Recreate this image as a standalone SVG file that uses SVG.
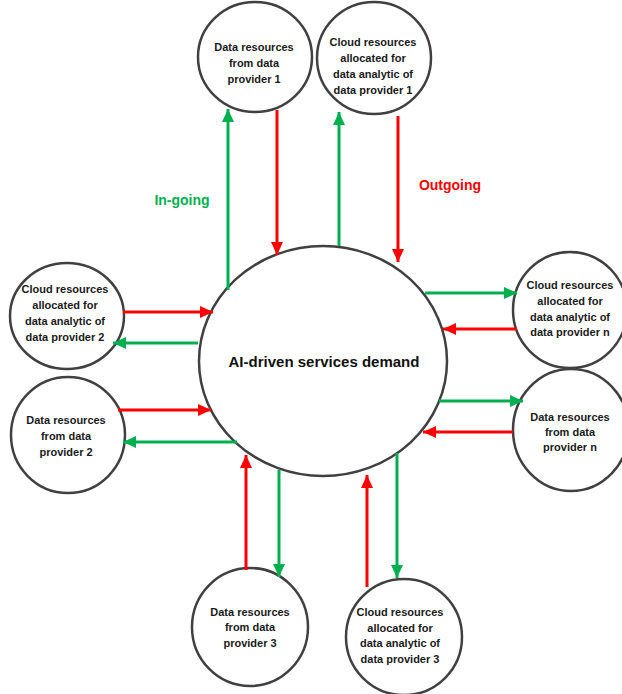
<svg xmlns="http://www.w3.org/2000/svg" width="622" height="694" viewBox="0 0 622 694">
  <style>
    .node { fill: #ffffff; stroke: #404040; stroke-width: 2.5; }
    .lbl { font-family: "Liberation Sans", Arial, sans-serif; font-weight: bold; font-size: 11px; fill: #1a1a1a; text-anchor: middle; }
    .hub { font-family: "Liberation Sans", Arial, sans-serif; font-weight: bold; font-size: 15px; fill: #111111; text-anchor: middle; }
    .out { stroke: #ff0000; stroke-width: 3; fill: none; marker-end: url(#headRed); }
    .in { stroke: #00b050; stroke-width: 3; fill: none; marker-end: url(#headGreen); }
    .key { font-family: "Liberation Sans", Arial, sans-serif; font-weight: bold; font-size: 14px; text-anchor: middle; }
  </style>
  <defs>
    <marker id="headRed" markerUnits="userSpaceOnUse" markerWidth="14" markerHeight="14" viewBox="0 0 14 14" refX="13" refY="7" orient="auto">
      <path d="M0,1 L13,7 L0,13 Z" fill="#ff0000"/>
    </marker>
    <marker id="headGreen" markerUnits="userSpaceOnUse" markerWidth="14" markerHeight="14" viewBox="0 0 14 14" refX="13" refY="7" orient="auto">
      <path d="M0,1 L13,7 L0,13 Z" fill="#00b050"/>
    </marker>
  </defs>

  <rect width="622" height="694" fill="#ffffff"/>

  <!-- central demand hub -->
  <g id="hub">
    <ellipse class="node" cx="323" cy="361" rx="124" ry="115"/>
    <text class="hub" x="324" y="367">AI-driven services demand</text>
  </g>

  <!-- provider nodes -->
  <g id="dr1">
    <ellipse class="node" cx="255" cy="57" rx="57" ry="55"/>
    <text class="lbl" x="254" y="51">Data resources</text>
    <text class="lbl" x="254" y="67">from data</text>
    <text class="lbl" x="254" y="83">provider 1</text>
  </g>
  <g id="cr1">
    <ellipse class="node" cx="374" cy="58" rx="57" ry="56"/>
    <text class="lbl" x="373" y="46">Cloud resources</text>
    <text class="lbl" x="373" y="62">allocated for</text>
    <text class="lbl" x="373" y="78">data analytic of</text>
    <text class="lbl" x="373" y="94">data provider 1</text>
  </g>
  <g id="cr2">
    <ellipse class="node" cx="67" cy="316" rx="57" ry="53"/>
    <text class="lbl" x="65" y="293">Cloud resources</text>
    <text class="lbl" x="65" y="309">allocated for</text>
    <text class="lbl" x="65" y="325">data analytic of</text>
    <text class="lbl" x="65" y="341">data provider 2</text>
  </g>
  <g id="dr2">
    <ellipse class="node" cx="68" cy="435" rx="57" ry="58"/>
    <text class="lbl" x="66" y="424">Data resources</text>
    <text class="lbl" x="66" y="440">from data</text>
    <text class="lbl" x="66" y="456">provider 2</text>
  </g>
  <g id="crn">
    <ellipse class="node" cx="570" cy="310" rx="57" ry="58"/>
    <text class="lbl" x="570" y="289">Cloud resources</text>
    <text class="lbl" x="570" y="305">allocated for</text>
    <text class="lbl" x="570" y="321">data analytic of</text>
    <text class="lbl" x="570" y="336">data provider n</text>
  </g>
  <g id="drn">
    <ellipse class="node" cx="571" cy="430" rx="58" ry="61"/>
    <text class="lbl" x="570" y="421">Data resources</text>
    <text class="lbl" x="570" y="436">from data</text>
    <text class="lbl" x="570" y="451">provider n</text>
  </g>
  <g id="dr3">
    <ellipse class="node" cx="250" cy="627" rx="58" ry="59"/>
    <text class="lbl" x="250" y="616">Data resources</text>
    <text class="lbl" x="250" y="631">from data</text>
    <text class="lbl" x="250" y="647">provider 3</text>
  </g>
  <g id="cr3">
    <ellipse class="node" cx="404" cy="637" rx="58" ry="58"/>
    <text class="lbl" x="400" y="616">Cloud resources</text>
    <text class="lbl" x="400" y="632">allocated for</text>
    <text class="lbl" x="400" y="647">data analytic of</text>
    <text class="lbl" x="400" y="663">data provider 3</text>
  </g>

  <!-- direction keys -->
  <text class="key" x="182" y="205" fill="#00b050">In-going</text>
  <text class="key" x="450" y="190" fill="#ff0000">Outgoing</text>

  <!-- flows between hub and providers -->
  <g id="connectors">
    <line class="in" x1="228" y1="290" x2="228" y2="109"/>
    <line class="out" x1="277" y1="110" x2="277" y2="255"/>
    <line class="in" x1="339" y1="246" x2="339" y2="112"/>
    <line class="out" x1="398" y1="116" x2="398" y2="262"/>

    <line class="out" x1="123" y1="312" x2="213" y2="312"/>
    <line class="in" x1="198" y1="343" x2="113" y2="343"/>
    <line class="out" x1="118" y1="410" x2="211" y2="410"/>
    <line class="in" x1="237" y1="442" x2="123" y2="442"/>

    <line class="in" x1="425" y1="293" x2="517" y2="293"/>
    <line class="out" x1="517" y1="329" x2="443" y2="329"/>
    <line class="in" x1="439" y1="401" x2="523" y2="401"/>
    <line class="out" x1="513" y1="432" x2="423" y2="432"/>

    <line class="out" x1="246" y1="570" x2="246" y2="455"/>
    <line class="in" x1="279" y1="470" x2="279" y2="577"/>
    <line class="out" x1="367" y1="587" x2="367" y2="475"/>
    <line class="in" x1="397" y1="453" x2="397" y2="578"/>
  </g>
</svg>
